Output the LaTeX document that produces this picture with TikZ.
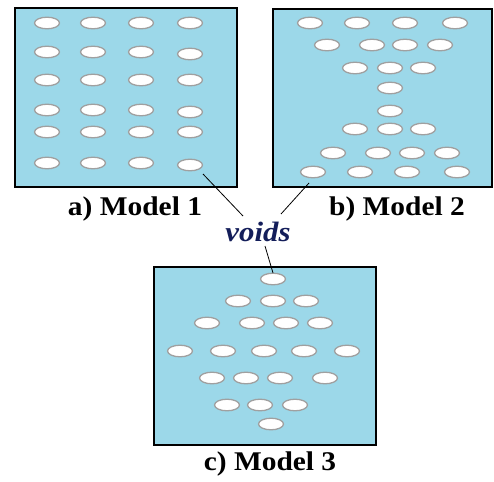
\documentclass[tikz,border=0pt]{standalone}
\usepackage{fontspec}
\setmainfont{Liberation Serif}
\definecolor{panelblue}{RGB}{156,216,233}
\definecolor{voidedge}{RGB}{160,160,160}
\definecolor{voidtext}{RGB}{20,30,90}
\begin{document}
\begin{tikzpicture}[x=1pt,y=-1pt,
  panel/.style={draw=black,line width=2.2pt,fill=panelblue},
  void/.style={draw=voidedge,line width=1.3pt,fill=white},
  caption/.style={font=\fontsize{27}{31}\selectfont\bfseries,inner sep=0pt,xscale=1.09},
  leader/.style={draw=black,line width=0.8pt}]
\useasboundingbox (0,0) rectangle (494,481);
\newcommand{\voidat}[2]{\path[void] (#1,#2) ellipse [x radius=12.5, y radius=5.8];}

% panel a: regular grid of voids
\path[panel] (15,8) rectangle (237,187);
\foreach \y/\ya in {23/23,52/54,80/80,110/112,132/132,163/165}{
  \foreach \x in {47,93,141}{\voidat{\x}{\y}}
  \voidat{190}{\ya}
}
\coordinate (va) at (203,174);
\node[caption] (la) at (135,209) {a) Model 1};

% panel b: hourglass arrangement
\path[panel] (273,9) rectangle (492,187);
\foreach \x/\y in {310/23,357/23,405/23,455/23,
                   327/45,372/45,405/45,440/45,
                   355/68,390/68,423/68,
                   390/88,390/111,
                   355/129,390/129,423/129,
                   333/153,378/153,412/153,447/153,
                   313/172,360/172,407/172,457/172}{\voidat{\x}{\y}}
\coordinate (vb) at (309,183);
\node[caption] (lb) at (397,209) {b) Model 2};

% panel c: diamond arrangement
\path[panel] (154,267) rectangle (376,445);
\foreach \x/\y in {273/279,
                   238/301,273/301,306/301,
                   207/323,252/323,286/323,320/323,
                   180/351,223/351,264/351,304/351,347/351,
                   212/378,246/378,280/378,325/378,
                   227/405,260/405,295/405,
                   271/424}{\voidat{\x}{\y}}
\coordinate (vc) at (273,273);
\node[caption] (lc) at (270,464) {c) Model 3};

% common label with leaders to one void of each panel
\node[font=\fontsize{28}{32}\selectfont\bfseries\itshape,text=voidtext,inner sep=2pt,xscale=1.1] (voids) at (258,232) {voids};
\draw[leader] (va) -- (243,216);
\draw[leader] (vb) -- (281,214);
\draw[leader] (265,246) -- (vc);
\end{tikzpicture}
\end{document}
